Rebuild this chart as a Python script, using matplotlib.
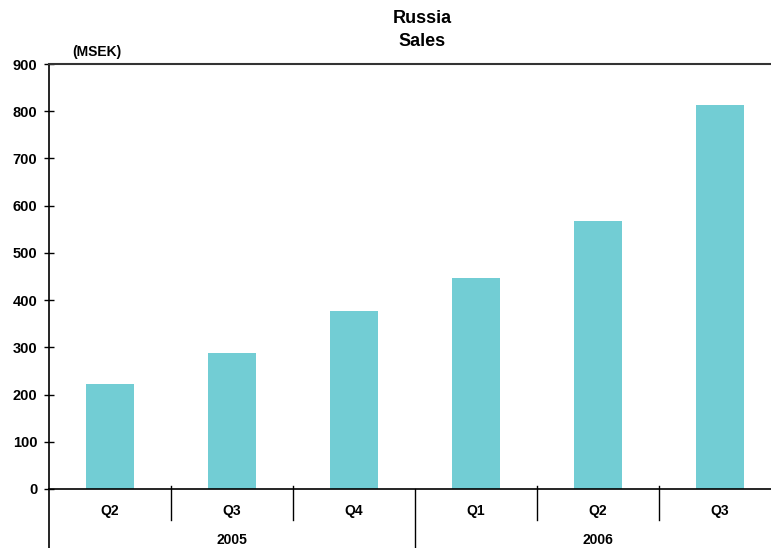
import matplotlib.pyplot as plt
import matplotlib.transforms as mtransforms

plt.rcParams['font.family'] = ['Liberation Sans', 'DejaVu Sans']
plt.rcParams['font.weight'] = 'bold'

quarters = ['Q2', 'Q3', 'Q4', 'Q1', 'Q2', 'Q3']
years = ['2005', '2006']
sales = [222, 288, 377, 447, 567, 813]

W, H = 771, 548
fig = plt.figure(figsize=(W / 100, H / 100), dpi=100)
ax = fig.add_axes([49 / W, 59 / H, 732 / W, 425 / H])

x = list(range(len(sales)))
ax.bar(x, sales, width=0.4, color='#72CDD4')

ax.set_xlim(-0.5, 5.5)
ax.set_ylim(0, 900)
ax.set_yticks(range(0, 901, 100))
ax.set_xticks([])
ax.tick_params(axis='y', direction='inout', length=7, width=1, pad=5, labelsize=10.5)
for lab in ax.get_yticklabels():
    lab.set_fontweight('bold')

ax.spines['right'].set_visible(False)
ax.spines['top'].set_color('#333333')
ax.spines['top'].set_linewidth(1.5)
for s in ['left', 'bottom']:
    ax.spines[s].set_linewidth(1.2)

# category axis
trans = mtransforms.blended_transform_factory(ax.transData, ax.transAxes)
for i in range(len(quarters) - 1):
    xs = i + 0.5
    if i == 2:
        ax.plot([xs, xs], [0, -0.2], color='black', lw=1, transform=trans, clip_on=False)
    else:
        ax.plot([xs, xs], [0.007, -0.073], color='black', lw=1, transform=trans, clip_on=False)
ax.plot([-0.5, -0.5], [0, -0.2], color='black', lw=1.2, transform=trans, clip_on=False)

for i, q in enumerate(quarters):
    ax.text(i, -0.052, q, transform=trans, ha='center', va='center', fontsize=10, fontweight='bold')
ax.text(1, -0.12, years[0], transform=trans, ha='center', va='center', fontsize=10, fontweight='bold')
ax.text(4, -0.12, years[1], transform=trans, ha='center', va='center', fontsize=10, fontweight='bold')

fig.text(422 / W, 1 - 30 / H, 'Russia\nSales', ha='center', va='center', fontsize=13, fontweight='bold', linespacing=1.45)
fig.text(72 / W, 1 - 52 / H, '(MSEK)', ha='left', va='center', fontsize=10, fontweight='bold')

plt.savefig('out.png', dpi=100)
